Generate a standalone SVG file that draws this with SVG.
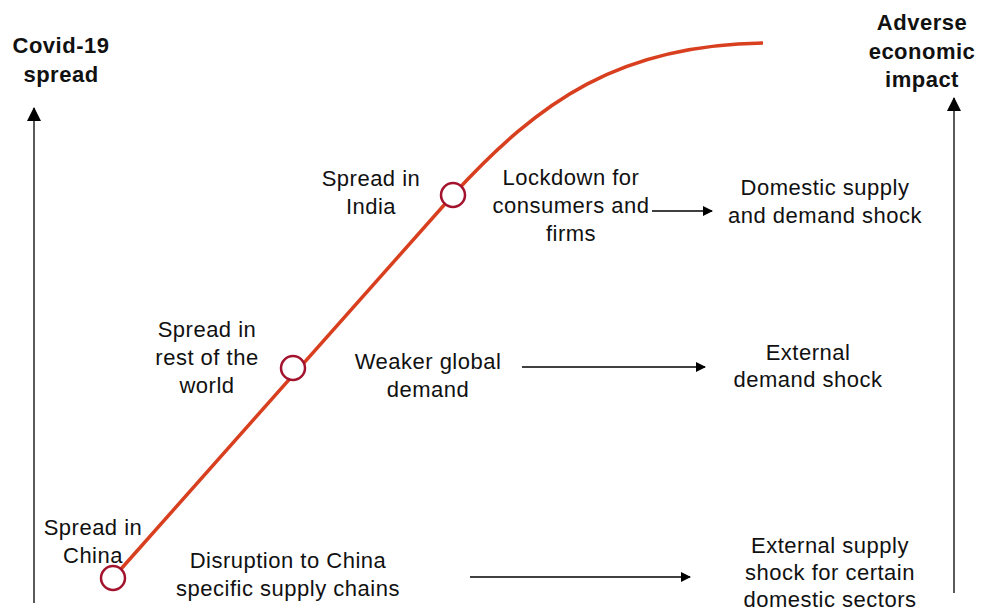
<svg xmlns="http://www.w3.org/2000/svg" width="989" height="613" viewBox="0 0 989 613">
<defs>
<marker id="ah" markerWidth="10" markerHeight="10" refX="9" refY="5" orient="auto" markerUnits="userSpaceOnUse">
<path d="M0,0 L10,5 L0,10 Z" fill="#000"/>
</marker>
<marker id="axh" markerWidth="14" markerHeight="14" refX="13" refY="7" orient="auto" markerUnits="userSpaceOnUse">
<path d="M0,0 L14,7 L0,14 Z" fill="#000"/>
</marker>
</defs>
<style>
text{font-family:"Liberation Sans",Arial,sans-serif;font-size:22px;fill:#111;text-anchor:middle;letter-spacing:0.5px}
.h{font-weight:bold}
.c{fill:#fff;stroke:#A3132D;stroke-width:2.5}
.ax{stroke:#000;stroke-width:1.3;fill:none}
.ar{stroke:#000;stroke-width:1.3;fill:none}
</style>
<rect width="989" height="613" fill="#fff"/>
<g id="connectors">
<path class="ax" d="M34,603 L34,108" marker-end="url(#axh)"/>
<path class="ax" d="M954,593 L954,98" marker-end="url(#axh)"/>
<path d="M113,578 L453,195 C540,100 620,45 763,43" fill="none" stroke="#D83F1F" stroke-width="3.5"/>
<path class="ar" d="M652,211 L712,211" marker-end="url(#ah)"/>
<path class="ar" d="M522,367 L705,367" marker-end="url(#ah)"/>
<path class="ar" d="M470,577 L690,577" marker-end="url(#ah)"/>
</g>
<g id="axis-left"><text class="h" x="61" y="53">Covid-19</text><text class="h" x="61" y="82">spread</text></g>
<g id="axis-right"><text class="h" x="922" y="30">Adverse</text><text class="h" x="922" y="59">economic</text><text class="h" x="922" y="87">impact</text></g>
<g id="china"><circle class="c" cx="113" cy="578" r="12"/><text x="93" y="535">Spread in</text><text x="93" y="563">China</text></g>
<g id="world"><circle class="c" cx="293" cy="368" r="12"/><text x="207" y="337">Spread in</text><text x="207" y="365">rest of the</text><text x="207" y="393">world</text></g>
<g id="india"><circle class="c" cx="453" cy="195" r="12"/><text x="371" y="186">Spread in</text><text x="371" y="214">India</text></g>
<g id="lockdown"><text x="571" y="185">Lockdown for</text><text x="571" y="213">consumers and</text><text x="571" y="241">firms</text></g>
<g id="domestic"><text x="825" y="195">Domestic supply</text><text x="825" y="223">and demand shock</text></g>
<g id="weaker"><text x="428" y="369">Weaker global</text><text x="428" y="397">demand</text></g>
<g id="external-demand"><text x="808" y="360">External</text><text x="808" y="387">demand shock</text></g>
<g id="disruption"><text x="288" y="568">Disruption to China</text><text x="288" y="596">specific supply chains</text></g>
<g id="external-supply"><text x="830" y="553">External supply</text><text x="830" y="580">shock for certain</text><text x="830" y="607">domestic sectors</text></g>
</svg>
